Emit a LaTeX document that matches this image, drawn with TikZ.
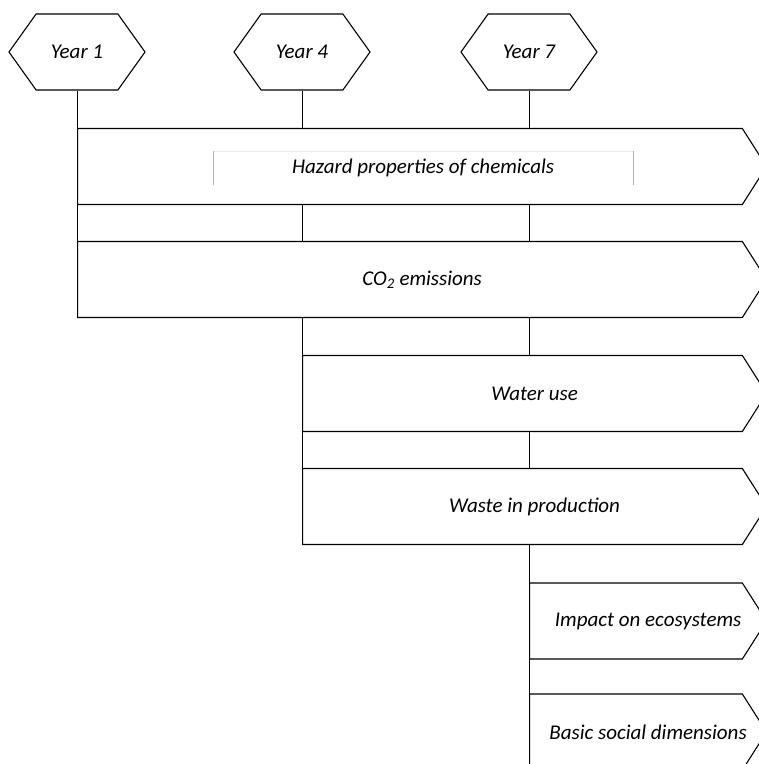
\documentclass[tikz,border=0pt]{standalone}
\usepackage{fontspec}
\setmainfont{Carlito}
\usetikzlibrary{shapes.symbols,backgrounds,calc}
\begin{document}
\begin{tikzpicture}
			[x=1pt,y=-1pt,font=\itshape\fontsize{21}{25}\selectfont,line width=1.1pt,
			year/.style={signal,draw,signal to=west and east,signal pointer angle=109,minimum width=136pt,minimum height=76pt,inner sep=0pt},
			bar/.style={signal,draw,fill=white,signal from=nowhere,signal to=east,signal pointer angle=115,minimum height=76pt,inner sep=0pt,anchor=west},
			frame/.style={draw=none,minimum width=419pt,minimum height=33pt,inner sep=0pt}]
			\useasboundingbox (0,0) rectangle (759,764);
			% years
			\node[year,name=y1] at (77,52) {Year 1};
			\node[year,name=y4] at (302,52) {Year 4};
			\node[year,name=y7] at (529,52) {Year 7};
			% indicators
			\node[bar,name=b1,minimum width=689pt] at (77,166.5) {};
			\node[bar,name=b2,minimum width=689pt] at (77,279.5) {};
			\node[bar,name=b3,minimum width=464pt] at (302,393.5) {};
			\node[bar,name=b4,minimum width=464pt] at (302,506.5) {};
			\node[bar,name=b5,minimum width=237pt] at (529,621) {};
			\node[bar,name=b6,minimum width=237pt] at (529,732) {};
			% labels
			\node[frame,name=hz] at ($(b1.west)!.5!(b1.east)+(1,1.5)$) {Hazard properties of chemicals};
			\node[name=t2] at ($(b2.west)!.5!(b2.east)$) {CO\textsubscript{2} emissions};
			\node[name=t3] at ($(b3.west)!.5!(b3.east)$) {Water use};
			\node[name=t4] at ($(b4.west)!.5!(b4.east)$) {Waste in production};
			\node[name=t5] at ($(b5.west)!.5!(b5.east)$) {Impact on ecosystems};
			\node[name=t6] at ($(b6.west)!.5!(b6.east)$) {Basic social dimensions};
			\draw[black!8,thin](hz.north west) -- (hz.north east);
			\draw[black!30,thin](hz.south west) -- (hz.north west) (hz.north east) -- (hz.south east);
			\begin{scope}[on background layer]
				\draw (y1.south) -- (y1.south |- b2.south);
				\draw (y4.south) -- (y4.south |- b4.south);
				\draw (y7.south) -- (y7.south |- b6.south);
			\end{scope}
		\end{tikzpicture}
\end{document}
